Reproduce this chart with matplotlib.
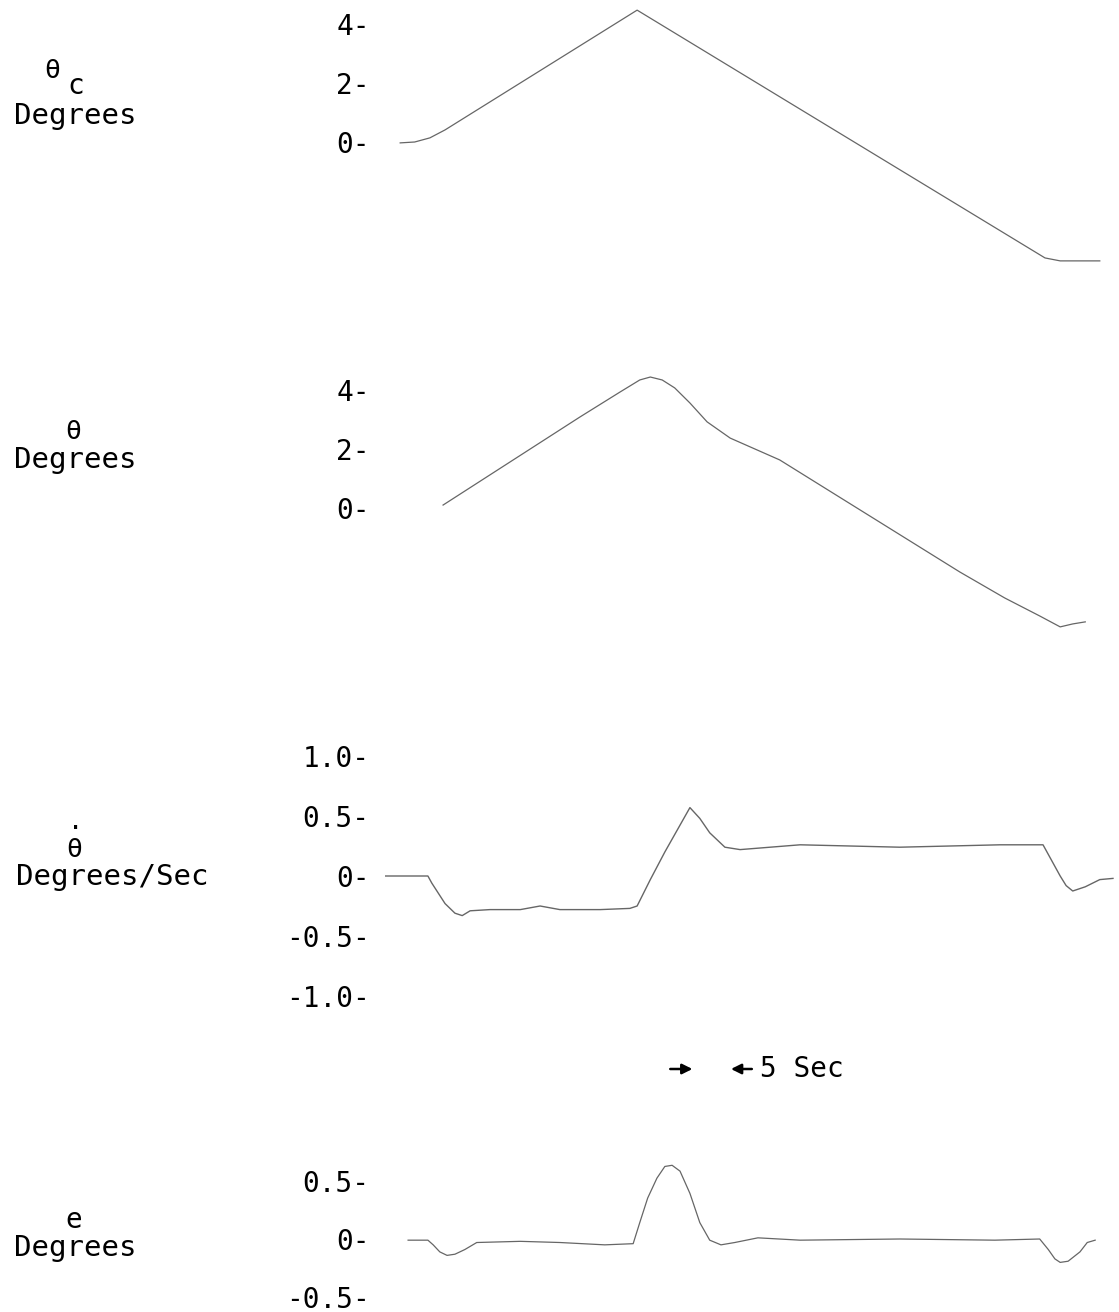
"""
Strip-chart recreation: commanded angle, angle, rate and error traces
"""

import matplotlib
matplotlib.use("Agg")
import matplotlib.pyplot as plt

plt.rcParams['font.family'] = ['DejaVu Sans Mono', 'DejaVu Sans']

# --- data (time in seconds) ---
# theta_c (commanded angle, degrees)
tc_time = [2.3, 4.5, 6.8, 9.1, 38.2, 100.0, 102.3, 108.3]
tc_vals = [-0.03, 0.0, 0.14, 0.41, 4.47, -3.93, -4.03, -4.03]

# theta (angle, degrees)
th_time = [8.8, 29.5, 35.6, 38.6, 40.2, 42.0, 43.9, 46.2, 48.8, 52.3, 59.8,
           87.1, 93.9, 99.2, 102.3, 104.2, 106.1]
th_vals = [0.10, 3.08, 3.93, 4.34, 4.44, 4.34, 4.07, 3.56, 2.92, 2.37, 1.63,
           -2.17, -3.05, -3.66, -4.03, -3.93, -3.86]

# theta dot (rate, degrees/sec)
rate_time = [0.0, 6.5, 7.1, 9.1, 10.6, 11.7, 12.9, 15.9, 20.5, 23.5, 26.5,
             32.6, 37.1, 38.2, 40.2, 42.4, 46.2, 47.7, 49.2, 51.5, 53.8,
             62.9, 78.0, 93.2, 99.7, 100.8, 102.3, 103.2, 104.2, 106.1,
             108.3, 110.3]
rate_vals = [0.0, 0.0, -0.06, -0.23, -0.31, -0.33, -0.29, -0.28, -0.28, -0.25,
             -0.28, -0.28, -0.27, -0.25, -0.03, 0.20, 0.57, 0.48, 0.36, 0.24,
             0.22, 0.26, 0.24, 0.26, 0.26, 0.15, 0.0, -0.08, -0.125, -0.09,
             -0.03, -0.02]

# e (error, degrees)
err_time = [3.5, 6.5, 7.3, 8.3, 9.4, 10.6, 12.1, 13.9, 20.5, 26.5, 33.3,
            37.6, 38.6, 39.8, 41.2, 42.4, 43.5, 44.7, 46.2, 47.7, 49.2, 50.9,
            53.0, 56.5, 62.9, 78.0, 92.4, 99.2, 100.5, 101.5, 102.3, 103.5,
            105.3, 106.4, 107.6]
err_vals = [-0.01, -0.01, -0.05, -0.11, -0.14, -0.13, -0.09, -0.03, -0.02,
            -0.03, -0.05, -0.04, 0.14, 0.35, 0.52, 0.62, 0.63, 0.58, 0.39,
            0.14, -0.01, -0.05, -0.03, 0.01, -0.01, 0.0, -0.01, 0.0, -0.09,
            -0.17, -0.2, -0.19, -0.11, -0.03, -0.01]

# tick values / labels per panel
tc_ticks = [0, 2, 4]
tc_labels = ['0-', '2-', '4-']
th_ticks = [0, 2, 4]
th_labels = ['0-', '2-', '4-']
rate_ticks = [-1.0, -0.5, 0, 0.5, 1.0]
rate_labels = ['-1.0-', '-0.5-', '0-', '0.5-', '1.0-']
err_ticks = [-0.5, 0, 0.5]
err_labels = ['-0.5-', '0-', '0.5-']

scale_bar = [47.0, 52.0]  # 5 sec marker

# --- layout ---
W, H = 1119, 1312
fig = plt.figure(figsize=(W / 100, H / 100), dpi=100)
fig.patch.set_facecolor('white')

X0_PX = 385          # left edge of the traces
PX_PER_SEC = 6.6
T_MAX = (W - X0_PX) / PX_PER_SEC
LINE_COLOR = '0.4'
FS = 20


def make_axis(top_px, bot_px, zero_px, px_per_unit, ticks, labels):
    ax = fig.add_axes([X0_PX / W, 1 - bot_px / H, 1 - X0_PX / W,
                       (bot_px - top_px) / H])
    ax.set_xlim(0, T_MAX)
    ax.set_ylim((zero_px - bot_px) / px_per_unit, (zero_px - top_px) / px_per_unit)
    for s in ax.spines.values():
        s.set_visible(False)
    ax.set_xticks([])
    ax.set_yticks(ticks)
    ax.set_yticklabels(labels, fontsize=FS)
    ax.tick_params(axis='y', length=0, pad=11)
    ax.patch.set_alpha(0)
    return ax


def label(x_px, y_px, s, size=FS, **kw):
    fig.text(x_px / W, 1 - y_px / H, s, fontsize=size, ha='center',
             va='center', **kw)


ax1 = make_axis(0, 300, 142, 29.5, tc_ticks, tc_labels)
ax1.plot(tc_time, tc_vals, color=LINE_COLOR, lw=0.9)

ax2 = make_axis(360, 650, 508, 29.5, th_ticks, th_labels)
ax2.plot(th_time, th_vals, color=LINE_COLOR, lw=0.9)

ax3 = make_axis(730, 1020, 876, 120, rate_ticks, rate_labels)
ax3.plot(rate_time, rate_vals, color=LINE_COLOR, lw=1.0)

ax4 = make_axis(1140, 1312, 1239, 117, err_ticks, err_labels)
ax4.plot(err_time, err_vals, color=LINE_COLOR, lw=0.9)

# left-hand labels
label(52, 71, 'θ', size=19)
label(76, 86, 'c')
label(75, 116, 'Degrees', size=21)

label(73, 432, 'θ', size=19)
label(75, 460, 'Degrees', size=21)

label(74, 850, 'θ', size=19)
label(75, 822, '.', size=18)
label(112, 877, 'Degrees/Sec', size=21)

label(74, 1220, 'e')
label(75, 1248, 'Degrees', size=21)

# 5 sec marker
y_arrow = 1 - 1069 / H
ax4.annotate('', xy=(scale_bar[0], y_arrow), xytext=(scale_bar[0] - 4.2, y_arrow),
             xycoords=('data', 'figure fraction'),
             textcoords=('data', 'figure fraction'),
             arrowprops=dict(arrowstyle='-|>', color='black', lw=1.8,
                             mutation_scale=15))
ax4.annotate('', xy=(scale_bar[1], y_arrow), xytext=(scale_bar[1] + 4.0, y_arrow),
             xycoords=('data', 'figure fraction'),
             textcoords=('data', 'figure fraction'),
             arrowprops=dict(arrowstyle='-|>', color='black', lw=1.8,
                             mutation_scale=15))
fig.text(760 / W, y_arrow, '5 Sec', fontsize=FS, ha='left', va='center')

fig.savefig('out.png', dpi=100, facecolor='white')
